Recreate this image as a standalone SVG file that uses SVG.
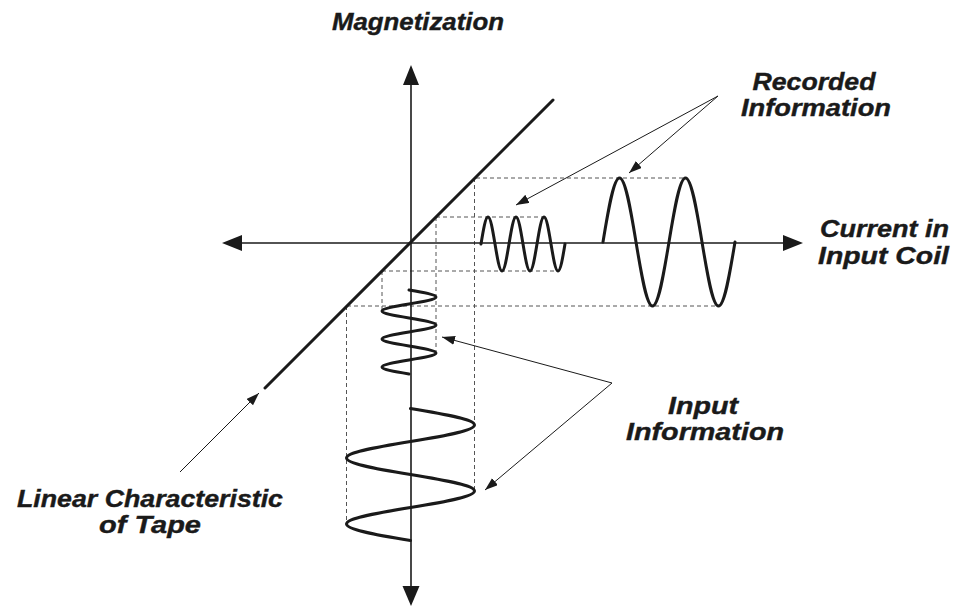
<svg xmlns="http://www.w3.org/2000/svg" width="961" height="606" viewBox="0 0 961 606">
<defs>
<style>
.axis{stroke:#1a1a1a;stroke-width:1.6;fill:none}
.head{fill:#1a1a1a;stroke:none}
.thick{stroke:#1a1a1a;stroke-width:3;fill:none;stroke-linecap:round;stroke-linejoin:round}
.guide{stroke:#555;stroke-width:1;stroke-dasharray:4 3;fill:none}
.ptr{stroke:#1a1a1a;stroke-width:1;fill:none;marker-end:url(#ah)}
.lbl{font-family:"Liberation Sans",Arial,sans-serif;font-weight:bold;font-style:italic;font-size:24px;fill:#1a1a1a;stroke:#1a1a1a;stroke-width:0.4}
</style>
<marker id="ah" markerUnits="userSpaceOnUse" markerWidth="14" markerHeight="10" refX="13" refY="4.5" orient="auto">
<path d="M0,0 L13,4.5 L0,9 z" fill="#1a1a1a"/>
</marker>
</defs>
<rect width="961" height="606" fill="#ffffff"/>

<g id="guides">
<path class="guide" d="M436,217 H544 M382,271 H558 M436,217 V353 M382,271 V311"/>
<path class="guide" d="M476,178 H685.5 M347,306 H718.5 M474.5,178 V491 M346.5,306 V524"/>
</g>

<g id="axes">
<line class="axis" x1="411" y1="80" x2="411" y2="590"/>
<polygon class="head" points="411,65 403,85 419,85"/>
<polygon class="head" points="411,606 402.5,586 419.5,586"/>
<line class="axis" x1="238" y1="243" x2="786" y2="243"/>
<polygon class="head" points="222,243 242,235 242,251"/>
<polygon class="head" points="803,243 783,235 783,251"/>
</g>

<g id="characteristic">
<line class="thick" x1="553" y1="100" x2="265" y2="388"/>
</g>

<g id="recorded-small">
<path class="thick" d="M481,244
c 2.284,-13.84 4.469,-27 7,-27 c 2.531,0 4.716,13.16 7,27 c 2.284,13.84 4.469,27 7,27 c 2.531,0 4.716,-13.16 7,-27
c 2.284,-13.84 4.469,-27 7,-27 c 2.531,0 4.716,13.16 7,27 c 2.284,13.84 4.469,27 7,27 c 2.531,0 4.716,-13.16 7,-27
c 2.284,-13.84 4.469,-27 7,-27 c 2.531,0 4.716,13.16 7,27 c 2.284,13.84 4.469,27 7,27 c 2.531,0 4.716,-13.16 7,-27"/>
</g>

<g id="recorded-large">
<path class="thick" d="M603,242
c 5.384,-32.8 10.534,-64 16.5,-64 c 5.966,0 11.116,31.2 16.5,64 c 5.384,32.8 10.534,64 16.5,64 c 5.966,0 11.116,-31.2 16.5,-64
c 5.384,-32.8 10.534,-64 16.5,-64 c 5.966,0 11.116,31.2 16.5,64 c 5.384,32.8 10.534,64 16.5,64 c 5.966,0 11.116,-31.2 16.5,-64"/>
</g>

<g id="input-small">
<path class="thick" d="M409,290
c 13.84,2.284 27,4.469 27,7 c 0,2.531 -13.16,4.716 -27,7 c -13.84,2.284 -27,4.469 -27,7 c 0,2.531 13.16,4.716 27,7
c 13.84,2.284 27,4.469 27,7 c 0,2.531 -13.16,4.716 -27,7 c -13.84,2.284 -27,4.469 -27,7 c 0,2.531 13.16,4.716 27,7
c 13.84,2.284 27,4.469 27,7 c 0,2.531 -13.16,4.716 -27,7 c -13.84,2.284 -27,4.469 -27,7 c 0,2.531 13.16,4.716 27,7"/>
</g>

<g id="input-large">
<path class="thick" d="M410.5,408.5
c 32.8,5.384 64,10.534 64,16.5 c 0,5.966 -31.2,11.116 -64,16.5 c -32.8,5.384 -64,10.534 -64,16.5 c 0,5.966 31.2,11.116 64,16.5
c 32.8,5.384 64,10.534 64,16.5 c 0,5.966 -31.2,11.116 -64,16.5 c -32.8,5.384 -64,10.534 -64,16.5 c 0,5.966 31.2,11.116 64,16.5"/>
</g>

<g id="connectors">
<line class="ptr" x1="718" y1="96" x2="516" y2="205"/>
<line class="ptr" x1="718" y1="96" x2="629" y2="173"/>
<line class="ptr" x1="612" y1="383" x2="442" y2="337"/>
<line class="ptr" x1="612" y1="383" x2="485" y2="490"/>
<line class="ptr" x1="180" y1="472" x2="259" y2="393"/>
</g>

<g id="labels">
<text class="lbl" x="418" y="30" text-anchor="middle" textLength="172" lengthAdjust="spacingAndGlyphs">Magnetization</text>
<text class="lbl" x="814" y="90" text-anchor="middle" textLength="123" lengthAdjust="spacingAndGlyphs">Recorded</text>
<text class="lbl" x="816" y="116" text-anchor="middle" textLength="150" lengthAdjust="spacingAndGlyphs">Information</text>
<text class="lbl" x="820" y="237" textLength="129" lengthAdjust="spacingAndGlyphs">Current in</text>
<text class="lbl" x="818" y="264" textLength="131" lengthAdjust="spacingAndGlyphs">Input Coil</text>
<text class="lbl" x="703" y="414" text-anchor="middle" textLength="70" lengthAdjust="spacingAndGlyphs">Input</text>
<text class="lbl" x="705" y="440" text-anchor="middle" textLength="158" lengthAdjust="spacingAndGlyphs">Information</text>
<text class="lbl" x="150" y="507" text-anchor="middle" textLength="266" lengthAdjust="spacingAndGlyphs">Linear Characteristic</text>
<text class="lbl" x="150" y="533" text-anchor="middle" textLength="102" lengthAdjust="spacingAndGlyphs">of Tape</text>
</g>
</svg>
